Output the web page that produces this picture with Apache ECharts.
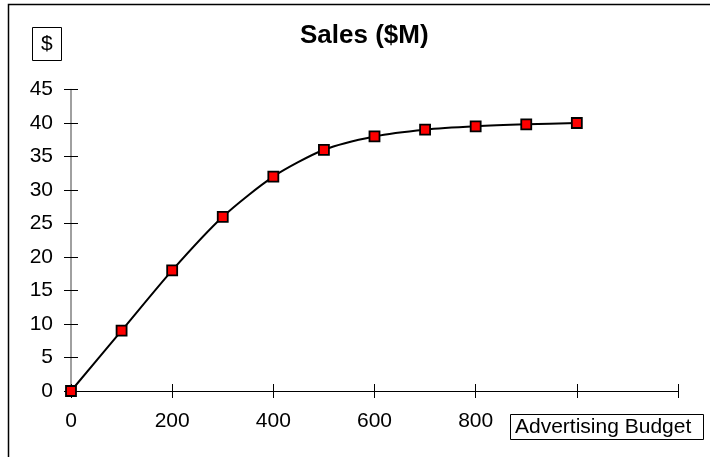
<!DOCTYPE html>
<html>
<head>
<meta charset="utf-8">
<script src="https://cdn.jsdelivr.net/npm/echarts@6/dist/echarts.min.js"></script>
<style>
  html, body { margin: 0; padding: 0; background: #fff; }
  #chart { width: 710px; height: 457px; }
</style>
</head>
<body>
<div id="chart"></div>
<script>
// Advertising budget vs. sales
const budget = [0, 100, 200, 300, 400, 500, 600, 700, 800, 900, 1000];
const sales = [0, 9, 18, 26, 32, 36, 38, 39, 39.5, 39.8, 40];
const xTickLabels = ['0', '200', '400', '600', '800'];
const chartTitle = 'Sales ($M)';
const yAxisTitle = '$';
const xAxisTitle = 'Advertising Budget';

const FONT = '"Liberation Sans", Arial, sans-serif';

const points = budget.map((b, i) => [b, sales[i]]);

const xBase = {
  type: 'value', min: 0, max: 1200, interval: 200, position: 'bottom', gridIndex: 0,
  splitLine: { show: false }
};
const yBase = {
  type: 'value', min: 0, max: 45, interval: 5, position: 'left', gridIndex: 0,
  splitLine: { show: false }
};

const chart = echarts.init(document.getElementById('chart'), null, { renderer: 'canvas' });
chart.setOption({
  animation: false,
  backgroundColor: '#fff',
  textStyle: { fontFamily: FONT },
  title: [
    {
      text: chartTitle, left: 300, top: 21, padding: 0,
      textStyle: { fontFamily: FONT, fontSize: 26, fontWeight: 'bold', color: '#000', lineHeight: 30 }
    },
    {
      text: yAxisTitle, left: 32, top: 27, padding: [6, 9, 6, 9],
      borderColor: '#000', borderWidth: 1,
      textStyle: { fontFamily: FONT, fontSize: 21, fontWeight: 'normal', color: '#000', lineHeight: 22 }
    },
    {
      text: xAxisTitle, left: 510, top: 414, padding: [2, 12, 2, 5],
      borderColor: '#000', borderWidth: 1,
      textStyle: { fontFamily: FONT, fontSize: 21, fontWeight: 'normal', color: '#000', lineHeight: 22 }
    }
  ],
  grid: { left: 71, top: 89.5, width: 607, height: 301.5, containLabel: false },
  xAxis: [
    // axis line and labels
    Object.assign({}, xBase, {
      axisLine: { show: true, onZero: false, lineStyle: { color: '#000', width: 1 } },
      axisTick: { show: false },
      axisLabel: {
        margin: 20, fontSize: 21, color: '#000', fontFamily: FONT,
        formatter: v => xTickLabels.indexOf(String(v)) >= 0 ? String(v) : ''
      }
    }),
    // cross ticks: shifted up by 7px, reaching 7px below the line
    Object.assign({}, xBase, {
      offset: -7,
      axisLine: { show: false, onZero: false },
      axisTick: { show: true, inside: false, length: 14, lineStyle: { color: '#000', width: 1 } },
      axisLabel: { show: false }
    })
  ],
  yAxis: [
    Object.assign({}, yBase, {
      axisLine: { show: true, onZero: false, lineStyle: { color: '#808080', width: 1.5 } },
      axisTick: { show: false },
      axisLabel: { margin: 18, fontSize: 21, color: '#000', fontFamily: FONT }
    }),
    // cross ticks: shifted right by 7px, reaching 7px left of the line
    Object.assign({}, yBase, {
      offset: -7,
      axisLine: { show: false, onZero: false },
      axisTick: { show: true, inside: false, length: 14, lineStyle: { color: '#000', width: 1 } },
      axisLabel: { show: false }
    })
  ],
  graphic: [
    {
      type: 'rect', silent: true, z: 100,
      shape: { x: 8.5, y: 4.5, width: 900, height: 700 },
      style: { fill: 'none', stroke: '#000', lineWidth: 1.5 }
    }
  ],
  series: [
    {
      type: 'line', xAxisIndex: 0, yAxisIndex: 0,
      data: points,
      smooth: 0.25,
      lineStyle: { color: '#000', width: 2 },
      symbol: 'rect', symbolSize: 10,
      itemStyle: { color: '#ff0000', borderColor: '#000', borderWidth: 1.8 },
      z: 5
    }
  ]
});
</script>
</body>
</html>
